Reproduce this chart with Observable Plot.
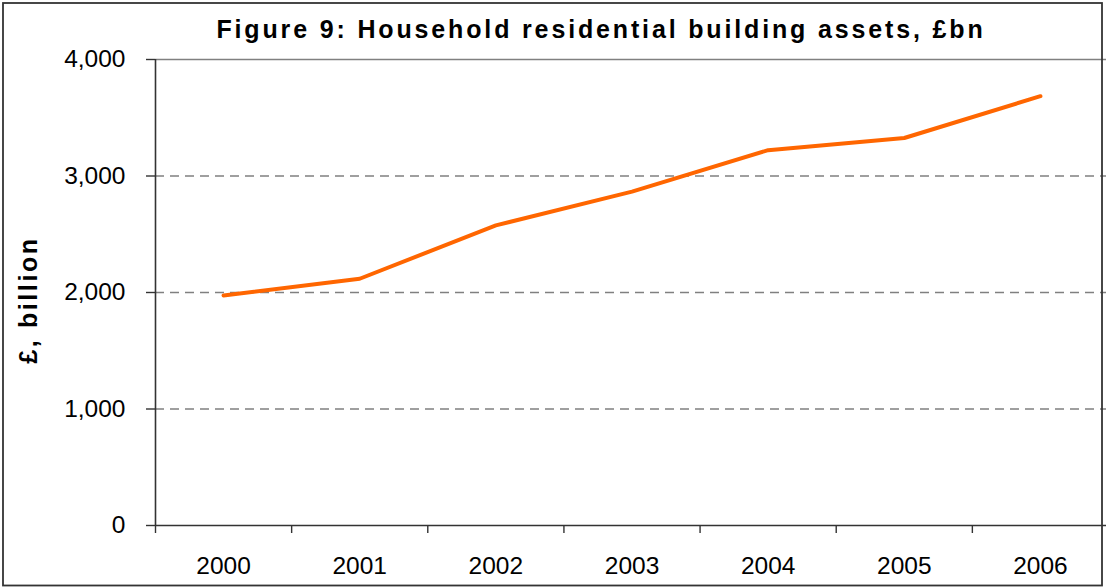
<!DOCTYPE html>
<html><head><meta charset="utf-8">
<script src="https://cdn.jsdelivr.net/npm/d3@7"></script>
<script src="https://cdn.jsdelivr.net/npm/@observablehq/plot@0.6"></script>
<style>
html,body{margin:0;padding:0;background:#fff;}
#chart{position:relative;width:1106px;height:587px;}
</style></head><body><div id="chart"></div>
<script>
const years = [2000, 2001, 2002, 2003, 2004, 2005, 2006];
const assets = [1975, 2118, 2576, 2866, 3222, 3326, 3685];
const yTicks = [0, 1000, 2000, 3000, 4000];
const titleText = "Figure 9: Household residential building assets, £bn";
const yLabel = "£, billion";

const data = years.map((y, i) => ({year: y, value: assets[i]}));
const boundaries = [...years.map(y => y - 0.5), years[years.length - 1] + 0.5];
const font = "Arial, 'Liberation Sans', Helvetica, sans-serif";

const W = 1106, H = 587;
const mL = 155, mT = 59, mB = 62;

const plot = Plot.plot({
  width: W, height: H,
  marginLeft: mL, marginRight: 0, marginTop: mT, marginBottom: mB,
  style: {fontFamily: font, fontSize: "24.5px", color: "#000", background: "#fff", overflow: "visible"},
  x: {domain: [years[0] - 0.5, years[years.length - 1] + 0.5], range: [mL, 1108]},
  y: {domain: [0, 4000]},
  marks: [
    Plot.ruleY(yTicks.filter(d => d > 0 && d < 4000), {stroke: "#808080", strokeWidth: 1.6, strokeDasharray: "9,6"}),
    Plot.ruleY([4000], {stroke: "#808080", strokeWidth: 1.6}),
    Plot.axisY({ticks: yTicks, tickSize: 9, tickPadding: 21, tickFormat: d3.format(","), label: null, stroke: "#333", strokeWidth: 1.4, fill: "#000"}),
    Plot.axisX({ticks: boundaries, tickSize: 8, tickFormat: () => "", label: null, stroke: "#333", strokeWidth: 1.4}),
    Plot.axisX({ticks: years, tickSize: 0, tickPadding: 31, tickFormat: d => String(d), label: null, fill: "#000"}),
    Plot.ruleX([years[0] - 0.5], {stroke: "#333", strokeWidth: 1.6}),
    Plot.ruleY([0], {stroke: "#333", strokeWidth: 1.6}),
    Plot.line(data, {x: "year", y: "value", stroke: "#FF6600", strokeWidth: 4, strokeLinejoin: "miter"})
  ]
});

const svg = d3.select(plot);
svg.append("text")
  .attr("x", 601).attr("y", 37.5)
  .attr("text-anchor", "middle")
  .attr("font-family", font).attr("font-weight", "bold").attr("font-size", 25)
  .attr("letter-spacing", "2.85px").attr("fill", "#000")
  .text(titleText);
svg.append("text")
  .attr("transform", "translate(37,300) rotate(-90)")
  .attr("text-anchor", "middle")
  .attr("font-family", font).attr("font-weight", "bold").attr("font-size", 25)
  .attr("letter-spacing", "2.6px").attr("fill", "#000")
  .text(yLabel);
svg.append("rect")
  .attr("x", 3).attr("y", 3).attr("width", 1099).attr("height", 582.5)
  .attr("fill", "none").attr("stroke", "#333").attr("stroke-width", 1.8);

document.getElementById("chart").appendChild(plot);
</script></body></html>
